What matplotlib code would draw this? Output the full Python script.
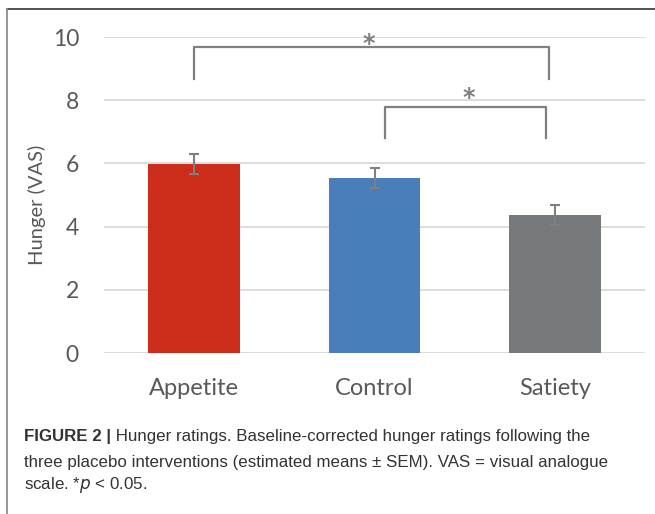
import numpy as np
import matplotlib.pyplot as plt
from matplotlib.lines import Line2D

groups = ['Appetite', 'Control', 'Satiety']
means = [5.99, 5.53, 4.37]
sem = [0.32, 0.31, 0.31]
colors = ['#CC2C1A', '#4A7EBB', '#76797B']
yticks = [0, 2, 4, 6, 8, 10]

# significance brackets: (x start, x end, bar height, leg bottom, star x, star y)
brackets = [(0.0, 1.97, 9.68, 8.68, 0.97, 9.55),
            (1.06, 1.95, 7.78, 6.80, 1.52, 7.85)]

fig = plt.figure(figsize=(6.55, 5.14), dpi=100)
ax = fig.add_axes([104/655, 1-353/514, 541/655, 316/514])

x = np.arange(len(groups))
ax.bar(x, means, width=0.51, color=colors, zorder=2)
ax.errorbar(x, means, yerr=sem, fmt='none', ecolor='#7F7F7F',
            elinewidth=1.5, capsize=3.5, capthick=1.5, zorder=3)

ax.set_xlim(-0.5, 2.5)
ax.set_ylim(0, 10)
ax.set_yticks(yticks)
ax.set_xticks(x)
ax.set_xticklabels(groups)
ax.yaxis.grid(True, color='#D9D9D9', linewidth=1.3, zorder=0)
ax.set_axisbelow(True)
for s in ax.spines.values():
    s.set_visible(False)
ax.tick_params(axis='y', length=0, labelsize=16.5, labelcolor='#595959', pad=18)
ax.tick_params(axis='x', length=0, labelsize=17, labelcolor='#595959', pad=18)
for lab in ax.get_xticklabels() + ax.get_yticklabels():
    lab.set_family('Lato')

for x0, x1, top, bot, sx, sy in brackets:
    ax.plot([x0, x0, x1, x1], [bot, top, top, bot], color='#7F7F7F',
            linewidth=1.6, clip_on=False, zorder=4)
    ax.text(sx, sy, '*', ha='center', va='baseline', fontsize=17,
            fontweight='bold', color='#7F7F7F', family='DejaVu Sans',
            clip_on=False)

fig.text(37/655, 1-205/514, 'Hunger (VAS)', rotation=90, ha='center',
         va='center', fontsize=14.5, color='#595959', family='Lato')

# caption
cap = dict(fontsize=12.2, color='#333333', family='Liberation Sans')
t0 = fig.text(24/655, 1-437/514, 'FIGURE 2 |', va='center',
              fontweight='bold', **cap)
ax.annotate(' Hunger ratings. Baseline-corrected hunger ratings following the',
            xy=(1, 0.5), xycoords=t0, va='center', ha='left', **cap)
fig.text(24/655, 1-462/514,
         'three placebo interventions (estimated means \u00b1 SEM). VAS = visual analogue',
         va='center', **cap)
fig.text(24/655, 1-485/514, 'scale. *$p$ < 0.05.', va='center', **cap)

# frame lines around figure
fig.add_artist(Line2D([7/655, 1], [1-9/514, 1-9/514], color='#444444', linewidth=1.3))
fig.add_artist(Line2D([7/655, 7/655], [1-9/514, 0], color='#8C8C8C', linewidth=1.3))

fig.savefig('out.png', dpi=100)
